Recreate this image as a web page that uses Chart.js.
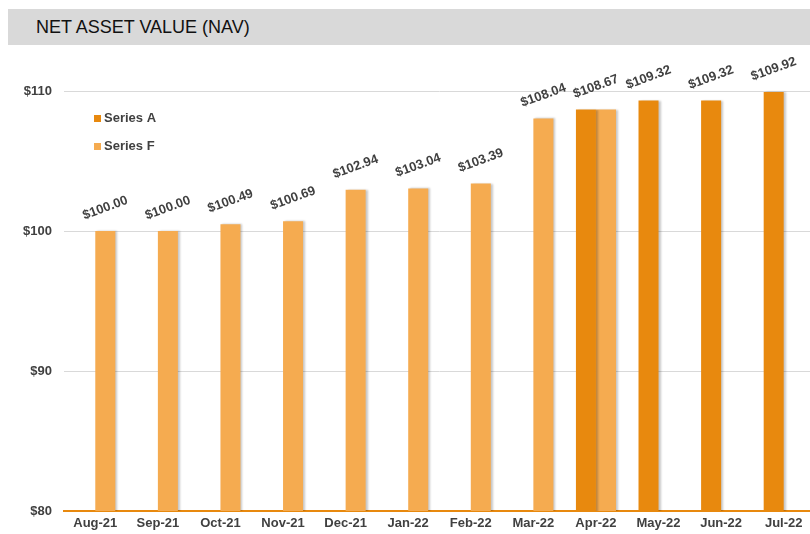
<!DOCTYPE html>
<html>
<head>
<meta charset="utf-8">
<script src="https://cdn.jsdelivr.net/npm/chart.js@4.4.1/dist/chart.umd.min.js"></script>
<style>
  html, body { margin: 0; padding: 0; background: #fff; overflow: hidden; }
  #wrap { position: relative; width: 815px; height: 534px; }
  #title {
    position: absolute; left: 8px; top: 9px; width: 802px; height: 36px;
    background: #d9d9d9; color: #111; font: 18px 'Liberation Sans', Arial, sans-serif;
    line-height: 37px; padding-left: 28px; box-sizing: border-box; z-index: 2;
  }
</style>
</head>
<body>
<div id="wrap">
  <div id="title">NET ASSET VALUE (NAV)</div>
  <canvas id="navChart" width="815" height="534"></canvas>
</div>
<script>
// dữ liệu biểu đồ
var months = ['Aug-21', 'Sep-21', 'Oct-21', 'Nov-21', 'Dec-21', 'Jan-22', 'Feb-22', 'Mar-22', 'Apr-22', 'May-22', 'Jun-22', 'Jul-22'];
var seriesA = [null, null, null, null, null, null, null, null, 108.67, 109.32, 109.32, 109.92];
var seriesF = [100.00, 100.00, 100.49, 100.69, 102.94, 103.04, 103.39, 108.04, 108.67, null, null, null];
var yTicks = [80, 90, 100, 110];

var colorA = '#e8890e';
var colorF = '#f5ab50';
var fontFam = "'Liberation Sans', Arial, sans-serif";

// nhãn giá trị xoay nghiêng phía trên cột
var valueLabels = {
  id: 'valueLabels',
  afterDatasetsDraw: function(chart) {
    var ctx = chart.ctx;
    ctx.save();
    ctx.font = 'bold 13px ' + fontFam;
    ctx.fillStyle = '#404040';
    ctx.textAlign = 'center';
    ctx.textBaseline = 'middle';
    months.forEach(function(m, i) {
      var xs = [], top = Infinity, val = null;
      chart.data.datasets.forEach(function(ds, d) {
        if (ds.data[i] == null) return;
        var bar = chart.getDatasetMeta(d).data[i];
        xs.push(bar.x);
        top = Math.min(top, bar.y);
        val = ds.data[i];
      });
      if (!xs.length) return;
      var cx = xs.reduce(function(a, b) { return a + b; }, 0) / xs.length;
      ctx.save();
      ctx.translate(cx, top - 23);
      ctx.rotate(-20 * Math.PI / 180);
      ctx.fillText('$' + val.toFixed(2), 0, 0);
      ctx.restore();
    });
    ctx.restore();
  }
};

// chú thích nằm trong vùng biểu đồ
var innerLegend = {
  id: 'innerLegend',
  afterDraw: function(chart) {
    var ctx = chart.ctx;
    ctx.save();
    ctx.font = 'bold 13px ' + fontFam;
    ctx.textBaseline = 'middle';
    chart.data.datasets.forEach(function(ds, d) {
      var y = 118.5 + d * 28;
      ctx.fillStyle = ds.backgroundColor;
      ctx.fillRect(94, y - 3.5, 7, 7);
      ctx.fillStyle = '#404040';
      ctx.fillText(ds.label, 104, y);
    });
    ctx.restore();
  }
};

// bóng nhẹ bên phải cột
var barShadow = {
  id: 'barShadow',
  beforeDatasetsDraw: function(chart) {
    var ctx = chart.ctx;
    ctx.save();
    ctx.shadowColor = 'rgba(0,0,0,0.22)';
    ctx.shadowOffsetX = 2;
    ctx.shadowOffsetY = 0;
    ctx.shadowBlur = 2;
  },
  afterDatasetsDraw: function(chart) {
    chart.ctx.restore();
  }
};

var ctx = document.getElementById('navChart').getContext('2d');
var navChart = new Chart(ctx, {
  type: 'bar',
  data: {
    labels: months,
    datasets: [
      { label: 'Series A', data: seriesA, backgroundColor: colorA },
      { label: 'Series F', data: seriesF, backgroundColor: colorF }
    ]
  },
  options: {
    responsive: false,
    animation: false,
    categoryPercentage: 0.64,
    barPercentage: 1.0,
    layout: { padding: { top: 63, right: 0, bottom: 0, left: 0 } },
    plugins: {
      legend: { display: false },
      tooltip: { enabled: false }
    },
    scales: {
      x: {
        afterFit: function(scale) { scale.height = 23; },
        grid: { display: false, drawTicks: false },
        border: { display: true, color: colorA, width: 2 },
        ticks: {
          color: '#404040',
          font: { family: fontFam, size: 13, weight: 'bold' },
          padding: 5,
          maxRotation: 0,
          autoSkip: false
        }
      },
      y: {
        min: 80,
        max: 112,
        afterBuildTicks: function(scale) {
          scale.ticks = yTicks.map(function(v) { return { value: v }; });
        },
        afterFit: function(scale) { scale.width = 64; },
        grid: { color: '#d9d9d9', lineWidth: 1, drawTicks: false },
        border: { display: false },
        ticks: {
          color: '#404040',
          font: { family: fontFam, size: 13, weight: 'bold' },
          padding: 12,
          callback: function(v) { return '$' + v; }
        }
      }
    }
  },
  plugins: [barShadow, valueLabels, innerLegend]
});
</script>
</body>
</html>
